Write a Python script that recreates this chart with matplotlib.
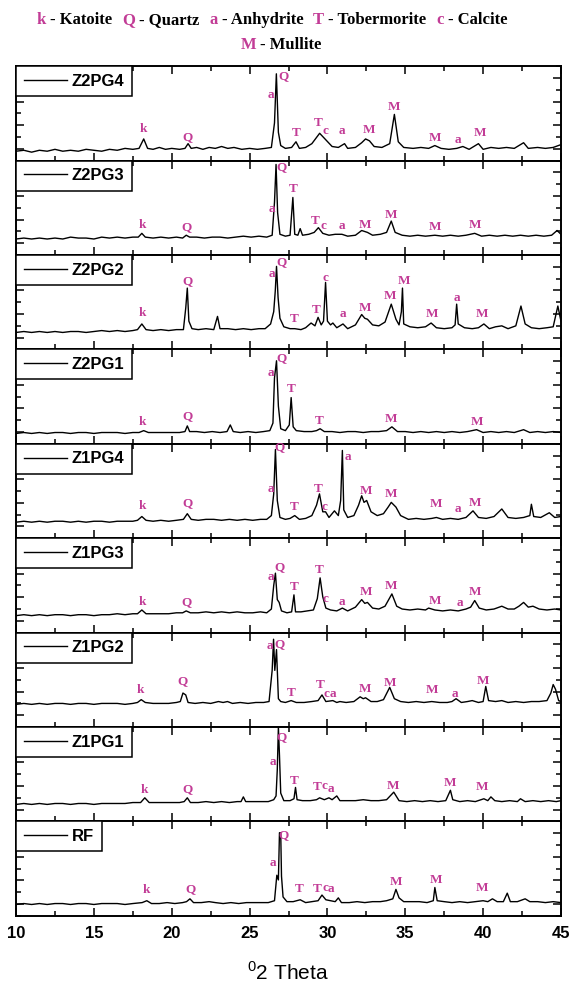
import matplotlib
matplotlib.use("Agg")
import matplotlib.pyplot as plt
from matplotlib.ticker import MultipleLocator

plt.rcParams['mathtext.fontset'] = 'custom'
plt.rcParams['mathtext.rm'] = 'Liberation Sans'

# sample names, top to bottom
samples = ["Z2PG4", "Z2PG3", "Z2PG2", "Z2PG1", "Z1PG4", "Z1PG3", "Z1PG2", "Z1PG1", "RF"]

# traces: (2theta, intensity in % of panel height)
z2pg4 = [(10, 10), (10.5, 11), (11, 9), (11.5, 11), (12, 10), (12.5, 12), (13, 10), (13.5, 11), (14, 10), (14.5, 12),
         (15, 11), (15.5, 10), (16, 12), (16.5, 11), (17, 13), (17.5, 12), (17.9, 13), (18.2, 23), (18.45, 13), (18.8, 12),
         (19.2, 14), (19.6, 12), (20, 13), (20.5, 12), (20.85, 13), (21.05, 18), (21.25, 13), (21.6, 14), (22, 12), (22.4, 14),
         (22.8, 13), (23.2, 15), (23.6, 13), (24, 14), (24.5, 12), (25, 13), (25.5, 12), (26, 13), (26.4, 14), (26.6, 40),
         (26.72, 92), (26.85, 30), (27.0, 16), (27.3, 13), (27.7, 14), (27.98, 20), (28.2, 13), (28.6, 14), (29.0, 18), (29.5, 29),
         (29.9, 22), (30.3, 15), (30.7, 14), (31.1, 18), (31.3, 13), (31.8, 14), (32.2, 19), (32.45, 23), (32.7, 21), (33.0, 15),
         (33.5, 14), (34.0, 18), (34.3, 49), (34.55, 20), (34.9, 14), (35.5, 13), (36, 14), (36.5, 13), (36.9, 16), (37.3, 13),
         (37.8, 12), (38.3, 13), (38.7, 15), (39.1, 12), (39.7, 18), (40.0, 12), (40.5, 14), (41, 13), (41.5, 14), (42, 13),
         (42.6, 19), (42.9, 13), (43.5, 14), (44, 13), (44.5, 14), (45, 17)]
z2pg3 = [(10, 17), (10.5, 18), (11, 17), (11.5, 18), (12, 17), (12.5, 18), (13, 17), (13.5, 19), (14, 18), (14.5, 18),
         (15, 17), (15.5, 19), (16, 18), (16.5, 19), (17, 18), (17.5, 19), (17.85, 19), (18.08, 23), (18.3, 19), (18.8, 18),
         (19.3, 19), (19.8, 18), (20.3, 19), (20.7, 18), (20.93, 21), (21.15, 19), (21.6, 19), (22.1, 18), (22.6, 19), (23.1, 19),
         (23.6, 18), (24.1, 19), (24.6, 20), (25.1, 19), (25.6, 20), (26.1, 19), (26.45, 21), (26.6, 56), (26.7, 96), (26.8, 45),
         (26.95, 22), (27.3, 20), (27.6, 21), (27.78, 61), (27.9, 22), (28.1, 21), (28.25, 28), (28.4, 21), (28.8, 22), (29.15, 24),
         (29.42, 29), (29.7, 23), (30.1, 21), (30.5, 22), (30.93, 22), (31.3, 20), (31.8, 21), (32.2, 26), (32.57, 24), (32.9, 21),
         (33.4, 22), (33.8, 24), (34.1, 36), (34.35, 24), (34.8, 21), (35.3, 20), (35.8, 21), (36.3, 20), (36.9, 21), (37.4, 20),
         (37.9, 21), (38.4, 20), (38.9, 21), (39.46, 23), (39.9, 20), (40.4, 21), (40.9, 20), (41.4, 21), (41.9, 20), (42.4, 21),
         (42.9, 20), (43.4, 21), (43.9, 20), (44.4, 21), (44.75, 26), (45, 22)]
z2pg2 = [(10, 18), (10.5, 19), (11, 18), (11.5, 19), (12, 18), (12.5, 19), (13, 18), (13.5, 19), (14, 19), (14.5, 18),
         (15, 19), (15.5, 20), (16, 19), (16.5, 20), (17, 19), (17.5, 20), (17.8, 21), (18.08, 27), (18.35, 21), (18.8, 20),
         (19.3, 21), (19.8, 20), (20.3, 21), (20.75, 21), (20.9, 44), (21.0, 65), (21.1, 30), (21.3, 22), (21.7, 21), (22.2, 22),
         (22.7, 21), (22.94, 35), (23.1, 22), (23.6, 22), (24.1, 21), (24.6, 22), (25.1, 21), (25.6, 22), (26.0, 22), (26.35, 27),
         (26.55, 40), (26.65, 62), (26.73, 88), (26.83, 55), (26.95, 33), (27.2, 24), (27.6, 22), (27.9, 22), (28.3, 21), (28.6, 23),
         (28.95, 28), (29.2, 25), (29.4, 34), (29.6, 26), (29.75, 30), (29.88, 71), (30.0, 30), (30.2, 26), (30.35, 28), (30.6, 23),
         (31.0, 27), (31.3, 22), (31.8, 26), (32.2, 37), (32.4, 33), (32.57, 32), (32.9, 26), (33.3, 25), (33.7, 29), (34.1, 48),
         (34.4, 32), (34.6, 26), (34.75, 40), (34.82, 65), (34.9, 27), (35.3, 24), (35.8, 23), (36.3, 24), (36.66, 28), (37.0, 23),
         (37.5, 22), (38.0, 23), (38.2, 26), (38.3, 48), (38.4, 27), (38.8, 23), (39.3, 22), (39.7, 23), (40.05, 27), (40.4, 22),
         (40.8, 24), (41.2, 25), (41.6, 22), (42.1, 25), (42.43, 46), (42.7, 27), (43.1, 23), (43.6, 22), (44.1, 23), (44.5, 24),
         (44.8, 46), (45, 30)]
z2pg1 = [(10, 11), (10.5, 12), (11, 11), (11.5, 12), (12, 11), (12.5, 12), (13, 12), (13.5, 11), (14, 12), (14.5, 12),
         (15, 11), (15.5, 12), (16, 12), (16.5, 12), (17, 11), (17.5, 12), (17.9, 12), (18.2, 14), (18.5, 12), (19, 12),
         (19.5, 12), (20, 12), (20.5, 12), (20.85, 13), (21.0, 19), (21.15, 13), (21.6, 13), (22.1, 12), (22.6, 13), (23.1, 12),
         (23.55, 13), (23.76, 20), (23.95, 13), (24.4, 12), (24.9, 13), (25.4, 12), (25.9, 13), (26.3, 14), (26.5, 22), (26.6, 70),
         (26.73, 88), (26.85, 40), (27.0, 16), (27.3, 14), (27.55, 20), (27.67, 49), (27.8, 18), (28.0, 14), (28.5, 13), (29.0, 13),
         (29.3, 14), (29.53, 16), (29.8, 13), (30.3, 13), (30.8, 12), (31.3, 13), (31.8, 13), (32.3, 12), (32.8, 13), (33.3, 13),
         (33.8, 14), (34.14, 18), (34.5, 13), (35, 13), (35.5, 12), (36, 13), (36.5, 12), (37, 13), (37.5, 12), (38, 13),
         (38.5, 12), (39, 13), (39.58, 15), (40, 12), (40.5, 13), (41, 12), (41.5, 13), (42, 12), (42.6, 15), (43, 12),
         (43.5, 13), (44, 12), (44.5, 13), (45, 12)]
z1pg4 = [(10, 17), (10.5, 18), (11, 17), (11.5, 18), (12, 17), (12.5, 18), (13, 18), (13.5, 17), (14, 18), (14.5, 17),
         (15, 18), (15.5, 18), (16, 17), (16.5, 18), (17, 18), (17.5, 18), (17.8, 19), (18.08, 23), (18.35, 19), (18.8, 18),
         (19.3, 19), (19.8, 18), (20.3, 19), (20.75, 20), (21.0, 26), (21.25, 20), (21.7, 19), (22.2, 20), (22.7, 20), (23.2, 19),
         (23.7, 20), (24.2, 19), (24.7, 20), (25.2, 19), (25.7, 20), (26.1, 20), (26.4, 24), (26.55, 47), (26.66, 94), (26.78, 40),
         (26.95, 22), (27.3, 20), (27.6, 21), (27.9, 24), (28.2, 20), (28.6, 21), (29.0, 24), (29.3, 35), (29.49, 47), (29.7, 28),
         (29.88, 28), (30.1, 22), (30.45, 29), (30.7, 24), (30.85, 40), (30.96, 93), (31.05, 30), (31.3, 22), (31.7, 24), (32.0, 35),
         (32.2, 45), (32.35, 38), (32.52, 40), (32.8, 28), (33.2, 24), (33.6, 26), (33.9, 33), (34.1, 38), (34.4, 33), (34.7, 24),
         (35.2, 20), (35.7, 21), (36.2, 20), (36.7, 21), (37.0, 22), (37.4, 20), (37.9, 21), (38.4, 20), (38.9, 22), (39.35, 29),
         (39.7, 22), (40.2, 21), (40.7, 23), (41.2, 31), (41.6, 22), (42.1, 21), (42.6, 22), (43.0, 24), (43.1, 36), (43.25, 23),
         (43.7, 22), (44.25, 27), (44.6, 22), (45, 23)]
z1pg3 = [(10, 18), (10.5, 19), (11, 18), (11.5, 19), (12, 18), (12.5, 19), (13, 19), (13.5, 18), (14, 19), (14.5, 19),
         (15, 18), (15.5, 19), (16, 19), (16.5, 20), (17, 19), (17.5, 20), (17.8, 20), (18.08, 24), (18.35, 20), (18.8, 20),
         (19.3, 20), (19.8, 20), (20.3, 21), (20.7, 21), (20.93, 23), (21.2, 21), (21.7, 21), (22.2, 22), (22.7, 21), (23.2, 22),
         (23.7, 21), (24.2, 22), (24.7, 21), (25.2, 21), (25.7, 22), (26.1, 21), (26.4, 25), (26.55, 50), (26.66, 63), (26.78, 35),
         (26.9, 32), (27.05, 23), (27.4, 21), (27.7, 22), (27.85, 40), (27.95, 22), (28.3, 22), (28.7, 23), (29.1, 24), (29.35, 36),
         (29.53, 58), (29.7, 38), (29.9, 26), (30.2, 24), (30.6, 23), (30.96, 26), (31.3, 23), (31.8, 27), (32.2, 35), (32.4, 31),
         (32.57, 32), (32.9, 26), (33.3, 25), (33.7, 28), (34.14, 41), (34.45, 28), (34.8, 25), (35.3, 24), (35.8, 25), (36.3, 24),
         (36.5, 26), (36.9, 24), (37.4, 23), (37.9, 24), (38.4, 23), (38.9, 25), (39.2, 27), (39.46, 34), (39.75, 26), (40.2, 24),
         (40.7, 25), (41.2, 28), (41.6, 25), (42.0, 25), (42.3, 28), (42.6, 32), (42.9, 27), (43.2, 28), (43.6, 25), (44.1, 24),
         (44.6, 25), (45, 24)]
z1pg2 = [(10, 24), (10.5, 25), (11, 24), (11.5, 25), (12, 24), (12.5, 25), (13, 25), (13.5, 24), (14, 25), (14.5, 25),
         (15, 24), (15.5, 25), (16, 25), (16.5, 25), (17, 24), (17.5, 25), (17.8, 26), (18.04, 29), (18.3, 26), (18.8, 25),
         (19.3, 25), (19.8, 25), (20.3, 26), (20.55, 27), (20.72, 36), (20.9, 34), (21.05, 26), (21.5, 25), (22.0, 26), (22.5, 25),
         (23.0, 27), (23.3, 26), (23.58, 27), (23.9, 25), (24.4, 26), (24.9, 25), (25.4, 26), (25.9, 26), (26.25, 27), (26.45, 60),
         (26.54, 93), (26.62, 60), (26.73, 82), (26.85, 30), (27.0, 27), (27.3, 26), (27.67, 28), (28.0, 26), (28.5, 26), (29.0, 27),
         (29.4, 28), (29.65, 34), (29.9, 27), (30.35, 28), (30.6, 26), (30.8, 27), (31.2, 26), (31.7, 27), (32.1, 32), (32.3, 30),
         (32.45, 31), (32.8, 27), (33.2, 27), (33.6, 29), (34.0, 42), (34.3, 30), (34.7, 27), (35.2, 26), (35.7, 27), (36.2, 26),
         (36.7, 27), (37.2, 26), (37.7, 26), (38.0, 27), (38.26, 30), (38.6, 26), (39.0, 27), (39.3, 28), (39.7, 26), (40.0, 27),
         (40.17, 43), (40.35, 28), (40.8, 27), (41.2, 28), (41.6, 26), (42.1, 27), (42.6, 26), (43.1, 27), (43.6, 27), (44.1, 28),
         (44.35, 36), (44.5, 45), (44.65, 40), (44.85, 28), (45, 27)]
z1pg1 = [(10, 18), (10.5, 19), (11, 18), (11.5, 19), (12, 18), (12.5, 19), (13, 19), (13.5, 18), (14, 19), (14.5, 19),
         (15, 18), (15.5, 19), (16, 19), (16.5, 19), (17, 19), (17.5, 20), (18.0, 20), (18.27, 25), (18.55, 20), (19.0, 20),
         (19.5, 20), (20.0, 20), (20.5, 20), (20.8, 21), (21.0, 25), (21.2, 20), (21.7, 20), (22.2, 21), (22.7, 20), (23.2, 21),
         (23.7, 20), (24.2, 21), (24.45, 21), (24.6, 26), (24.75, 21), (25.2, 21), (25.7, 21), (26.2, 21), (26.55, 23), (26.7, 27),
         (26.78, 55), (26.85, 100), (26.92, 70), (27.0, 30), (27.2, 22), (27.6, 22), (27.85, 24), (27.95, 36), (28.05, 23), (28.4, 22),
         (28.9, 22), (29.3, 23), (29.5, 25), (29.8, 23), (30.1, 25), (30.3, 23), (30.6, 27), (30.8, 22), (31.3, 22), (31.8, 22),
         (32.3, 23), (32.8, 22), (33.3, 22), (33.8, 23), (34.26, 31), (34.6, 22), (35.1, 21), (35.6, 22), (36.1, 21), (36.6, 22),
         (37.1, 21), (37.6, 22), (37.9, 33), (38.05, 23), (38.5, 21), (39.0, 22), (39.5, 21), (40.05, 24), (40.3, 22), (40.5, 26),
         (40.75, 22), (41.2, 21), (41.7, 22), (42.2, 21), (42.4, 24), (42.7, 21), (43.2, 22), (43.7, 21), (44.2, 22), (44.7, 21),
         (45, 22)]
rf = [(10, 12), (10.5, 13), (11, 12), (11.5, 13), (12, 12), (12.5, 13), (13, 13), (13.5, 12), (14, 13), (14.5, 13),
      (15, 12), (15.5, 13), (16, 13), (16.5, 13), (17, 12), (17.5, 13), (18.1, 14), (18.4, 16), (18.7, 13), (19.2, 13),
      (19.7, 14), (20.2, 13), (20.7, 14), (20.95, 15), (21.17, 18), (21.4, 14), (21.9, 14), (22.4, 15), (22.8, 14), (23.3, 13),
      (23.8, 14), (24.3, 13), (24.8, 14), (25.3, 14), (25.8, 14), (26.2, 14), (26.6, 16), (26.75, 43), (26.85, 38), (26.92, 88),
      (27.0, 88), (27.05, 42), (27.15, 20), (27.4, 15), (27.8, 15), (28.25, 17), (28.6, 14), (29.0, 15), (29.4, 16), (29.65, 22),
      (29.9, 17), (30.2, 16), (30.5, 15), (30.7, 19), (30.9, 14), (31.4, 14), (31.9, 15), (32.4, 14), (32.9, 15), (33.4, 15),
      (33.8, 16), (34.2, 18), (34.4, 28), (34.6, 19), (34.9, 15), (35.4, 15), (35.9, 15), (36.4, 14), (36.8, 16), (36.9, 30),
      (37.05, 16), (37.5, 15), (38.0, 14), (38.5, 15), (39.0, 14), (39.5, 15), (40.0, 16), (40.3, 15), (40.6, 18), (40.9, 15),
      (41.3, 15), (41.55, 24), (41.75, 15), (42.2, 15), (42.7, 18), (43.0, 15), (43.5, 15), (44.0, 14), (44.5, 15), (45, 14)]
traces = [z2pg4, z2pg3, z2pg2, z2pg1, z1pg4, z1pg3, z1pg2, z1pg1, rf]

# phase letters: (letter, 2theta, height %)
z2pg4_marks = [("k", 18.2, 34), ("Q", 21.0, 25), ("a", 26.4, 70), ("Q", 27.2, 90), ("T", 28.0, 29), ("T", 29.4, 40),
               ("c", 29.85, 31), ("a", 30.95, 31), ("M", 32.7, 32), ("M", 34.3, 57), ("M", 36.9, 24), ("a", 38.4, 22),
               ("M", 39.8, 29)]
z2pg3_marks = [("k", 18.1, 32), ("Q", 20.95, 30), ("a", 26.45, 49), ("Q", 27.05, 93), ("T", 27.8, 70), ("T", 29.2, 36),
               ("c", 29.75, 31), ("a", 30.9, 31), ("M", 32.4, 32), ("M", 34.1, 42), ("M", 36.9, 30), ("M", 39.5, 32)]
z2pg2_marks = [("k", 18.1, 39), ("Q", 21.0, 72), ("a", 26.45, 80), ("Q", 27.05, 92), ("T", 27.9, 32), ("T", 29.3, 42),
               ("c", 29.85, 76), ("a", 31.0, 38), ("M", 32.4, 44), ("M", 34.05, 57), ("M", 34.9, 72), ("M", 36.7, 38),
               ("a", 38.3, 54), ("M", 39.95, 38)]
z2pg1_marks = [("k", 18.1, 23), ("Q", 21.0, 29), ("a", 26.4, 75), ("Q", 27.05, 91), ("T", 27.7, 58), ("T", 29.5, 24),
               ("M", 34.1, 26), ("M", 39.6, 23)]
z1pg4_marks = [("k", 18.1, 34), ("Q", 21.0, 37), ("a", 26.35, 52), ("Q", 26.95, 97), ("T", 27.9, 33), ("T", 29.4, 52),
               ("c", 29.8, 33), ("a", 31.3, 86), ("M", 32.5, 50), ("M", 34.1, 47), ("M", 37.0, 36), ("a", 38.4, 31),
               ("M", 39.5, 37)]
z1pg3_marks = [("k", 18.1, 32), ("Q", 20.95, 32), ("a", 26.4, 59), ("Q", 26.95, 69), ("T", 27.85, 48), ("T", 29.5, 66),
               ("c", 29.85, 36), ("a", 30.95, 32), ("M", 32.5, 43), ("M", 34.1, 49), ("M", 36.9, 34), ("a", 38.5, 31),
               ("M", 39.5, 43)]
z1pg2_marks = [("k", 18.0, 39), ("Q", 20.7, 49), ("a", 26.3, 86), ("Q", 26.9, 88), ("T", 27.7, 36), ("T", 29.55, 45),
               ("c", 29.95, 35), ("a", 30.35, 35), ("M", 32.4, 40), ("M", 34.05, 47), ("M", 36.7, 39), ("a", 38.2, 35),
               ("M", 40.0, 49)]
z1pg1_marks = [("k", 18.25, 33), ("Q", 21.0, 34), ("a", 26.5, 63), ("Q", 27.05, 89), ("T", 27.9, 43), ("T", 29.35, 36),
               ("c", 29.8, 37), ("a", 30.2, 34), ("M", 34.2, 38), ("M", 37.9, 41), ("M", 39.95, 36)]
rf_marks = [("k", 18.4, 27), ("Q", 21.2, 28), ("a", 26.5, 56), ("Q", 27.15, 86), ("T", 28.2, 28), ("T", 29.35, 28),
            ("c", 29.85, 29), ("a", 30.2, 28), ("M", 34.4, 36), ("M", 37.0, 38), ("M", 39.95, 29)]
marks = [z2pg4_marks, z2pg3_marks, z2pg2_marks, z2pg1_marks, z1pg4_marks, z1pg3_marks, z1pg2_marks, z1pg1_marks, rf_marks]

# key at the top
key_line1 = [("k", "- Katoite"), ("Q", "- Quartz"), ("a", "- Anhydrite"), ("T", "- Tobermorite"), ("c", "- Calcite")]
key_line2 = [("M", "- Mullite")]

pink = "#c23c96"
serif = "Liberation Serif"
sans = "Liberation Sans"

fig, axes = plt.subplots(9, 1, figsize=(5.73, 9.89), dpi=100, sharex=True)
fig.subplots_adjust(left=0.028, right=0.979, top=0.933, bottom=0.074, hspace=0)

for ax, name, trace, mk in zip(axes, samples, traces, marks):
    xs = [p[0] for p in trace]
    ys = [p[1] for p in trace]
    ax.plot(xs, ys, color="black", lw=1.0, label=name)
    ax.set_xlim(10, 45)
    ax.set_ylim(0, 100)
    for letter, x, y in mk:
        ax.text(x, y, letter, color=pink, fontsize=9.5, fontweight="bold", family=serif,
                ha="center", va="center")
    ax.xaxis.set_major_locator(MultipleLocator(5))
    ax.xaxis.set_minor_locator(MultipleLocator(2.5))
    ax.yaxis.set_major_locator(MultipleLocator(25, offset=12.5))
    ax.yaxis.set_minor_locator(MultipleLocator(25))
    ax.tick_params(which="both", direction="in", top=True, right=True, labelleft=False, width=1.1)
    ax.tick_params(which="major", length=6)
    ax.tick_params(which="minor", length=3.5)
    for sp in ax.spines.values():
        sp.set_linewidth(1.4)
    leg = ax.legend(loc="upper left", borderaxespad=0, fancybox=False, framealpha=1, edgecolor="black",
                    handlelength=2.6, handletextpad=0.3, borderpad=0.45,
                    prop={"family": sans, "weight": "bold", "size": 12})
    leg.get_frame().set_linewidth(1.1)

axes[-1].tick_params(axis="x", labelsize=12, pad=7)
for lab in axes[-1].get_xticklabels():
    lab.set_fontweight("bold")
    lab.set_family(sans)

fig.text(0.503, 0.017, r"$^{0}$2 Theta", ha="center", va="center", fontsize=15, family=sans)

# two-colour key
renderer = fig.canvas.get_renderer()


def key_row(pairs, y_px, x_center):
    pieces = []
    for sym, desc in pairs:
        pieces.append((sym, pink, 4))
        pieces.append((desc, "black", 10))
    items = []
    total = 0
    for i, (s, c, gap) in enumerate(pieces):
        t = fig.text(0, 0, s, color=c, fontsize=12, fontweight="bold", family=serif,
                     transform=None, va="center")
        w = t.get_window_extent(renderer).width
        items.append((t, w, gap))
        total += w + (gap if i < len(pieces) - 1 else 0)
    x = x_center - total / 2
    for t, w, gap in items:
        t.set_position((x, fig.bbox.height - y_px))
        x += w + gap


key_row(key_line1, 20, 272)
key_row(key_line2, 45, 281)

fig.savefig("out.png", dpi=100)
